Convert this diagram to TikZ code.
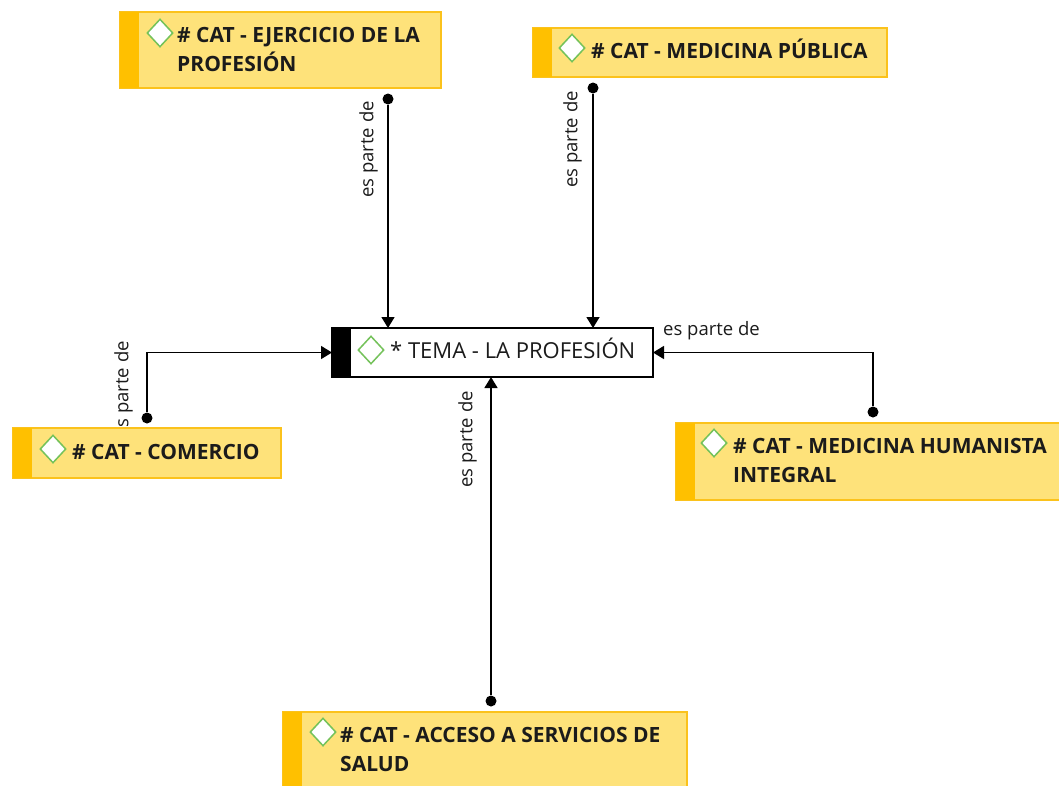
\documentclass[tikz,border=0pt]{standalone}
\usepackage{fontspec}
\setmainfont{Open Sans}
\usetikzlibrary{arrows.meta,shapes.geometric,calc}
\definecolor{catfill}{HTML}{FEE27A}
\definecolor{catedge}{HTML}{FBC21C}
\definecolor{catbar}{HTML}{FFC000}
\definecolor{diamgreen}{HTML}{74C25A}
\definecolor{ink}{HTML}{1B1B1B}

\begin{document}
\begin{tikzpicture}[x=1pt,y=-1pt,
  catbox/.style={draw=catedge, fill=catfill, line width=1.3pt, anchor=north west, inner sep=0pt, outer sep=0pt},
  temabox/.style={draw=black, fill=white, line width=1.5pt, anchor=north west, inner sep=0pt, outer sep=0pt},
  diam/.style={diamond, draw=diamgreen, fill=white, line width=1.5pt, minimum width=26pt, minimum height=28pt, inner sep=0pt},
  cattext/.style={anchor=base west, inner sep=0pt, align=left, font=\fontsize{21}{29}\selectfont\bfseries, text=ink},
  rel/.style={inner sep=0pt, font=\fontsize{18.5}{22}\selectfont, text=ink},
  relv/.style={rel, rotate=90, anchor=south east},
  dot/.style={circle, fill=black, minimum size=11pt, inner sep=0pt},
  conn/.style={line width=1.5pt, -{Triangle[length=11pt,width=13pt]}},
]
\useasboundingbox (0,0) rectangle (1059,785);

% central topic
\node[temabox, minimum width=321pt, minimum height=49pt] (tema) at (332,328) {};
\fill[black] (tema.north west) rectangle ++(19,49);
\node[diam] (tema-d) at (371,350) {};
\node[anchor=base west, inner sep=0pt, font=\fontsize{22}{26}\selectfont, text=ink] (tema-t) at (390,358) {* TEMA - LA PROFESIÓN};

% relation labels (drawn before the boxes so the boxes cover them)
\node[relv] (l1) at (378,101) {es parte de};
\node[relv] (l2) at (582,91) {es parte de};
\node[relv] (l3) at (133,341) {es parte de};
\node[rel, anchor=base west] (l4) at (663,335) {es parte de};
\node[relv] (l5) at (477,391) {es parte de};

% category boxes (multi-line texts are placed by the baseline of their last line)
\node[catbox, minimum width=321pt, minimum height=76pt] (ejer) at (120,12) {};
\fill[catbar] (ejer.north west) rectangle ++(19,76);
\node[diam] (ejer-d) at (160,33) {};
\node[cattext] (ejer-t) at (177,71) {\# CAT - EJERCICIO DE LA\\PROFESIÓN};

\node[catbox, minimum width=354pt, minimum height=49pt] (medpub) at (533,28) {};
\fill[catbar] (medpub.north west) rectangle ++(19,49);
\node[diam] (medpub-d) at (572,48) {};
\node[cattext] (medpub-t) at (591,58) {\# CAT - MEDICINA PÚBLICA};

\node[catbox, minimum width=268pt, minimum height=50pt] (comer) at (13,428) {};
\fill[catbar] (comer.north west) rectangle ++(19,50);
\node[diam] (comer-d) at (53,449) {};
\node[cattext] (comer-t) at (72,459) {\# CAT - COMERCIO};

\node[catbox, minimum width=400pt, minimum height=77pt] (human) at (676,423) {};
\fill[catbar] (human.north west) rectangle ++(19,77);
\node[diam] (human-d) at (714,443) {};
\node[cattext] (human-t) at (733,482) {\# CAT - MEDICINA HUMANISTA\\INTEGRAL};

\node[catbox, minimum width=404pt, minimum height=90pt] (acceso) at (283,712) {};
\fill[catbar] (acceso.north west) rectangle ++(19,90);
\node[diam] (acceso-d) at (323,732) {};
\node[cattext] (acceso-t) at (340,771) {\# CAT - ACCESO A SERVICIOS DE\\SALUD};

% connector start dots
\node[dot] (d1) at (388,99) {};
\node[dot] (d2) at (593,88) {};
\node[dot] (d3) at (147,418) {};
\node[dot] (d4) at (873,412) {};
\node[dot] (d5) at (491,701) {};

% connectors
\draw[conn] (d1) -- (d1 |- tema.north);
\draw[conn] (d2) -- (d2 |- tema.north);
\draw[conn] (d3) |- (tema.west);
\draw[conn] (d4) |- (tema.east);
\draw[conn] (d5) -- (d5 |- tema.south);
\end{tikzpicture}
\end{document}
